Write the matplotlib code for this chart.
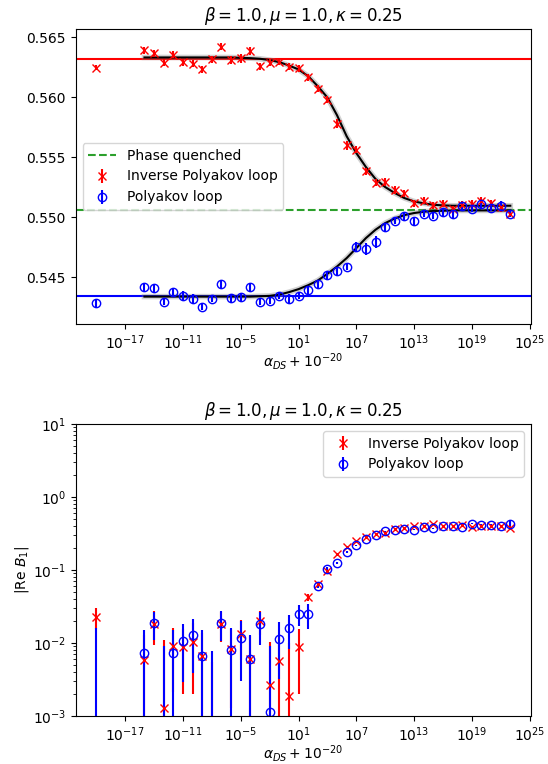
import matplotlib
matplotlib.use('Agg')
import matplotlib.pyplot as plt
import matplotlib.ticker as mticker
import numpy as np

# alpha_DS values of the runs (first run has alpha_DS = 0)
alpha_ds = np.array([0.0, 1e-15, 1e-14, 1e-13, 1e-12, 1e-11, 1e-10, 1e-9, 1e-8,
                     1e-7, 1e-6, 1e-5, 1e-4, 1e-3, 1e-2, 1e-1, 1e0, 1e1, 1e2,
                     1e3, 1e4, 1e5, 1e6, 1e7, 1e8, 1e9, 1e10, 1e11, 1e12, 1e13,
                     1e14, 1e15, 1e16, 1e17, 1e18, 1e19, 1e20, 1e21, 1e22, 1e23])
x = alpha_ds + 1e-20

# Top panel: |Polyakov loop| and |inverse Polyakov loop|
inv_poly = [0.56249, 0.56394, 0.56366, 0.56288, 0.56355, 0.56291, 0.56280, 0.56235,
            0.56316, 0.56422, 0.56311, 0.56325, 0.56386, 0.56260, 0.56288, 0.56299,
            0.56255, 0.56241, 0.56166, 0.56071, 0.55982, 0.55781, 0.55600, 0.55564,
            0.55383, 0.55288, 0.55294, 0.55227, 0.55199, 0.55118, 0.55138, 0.55099,
            0.55113, 0.55071, 0.55099, 0.55113, 0.55138, 0.55118, 0.55085, 0.55029]
inv_poly_err = [0.0002, 0.0003, 0.0003, 0.0003, 0.0003, 0.0003, 0.0003, 0.0003,
                0.0003, 0.0003, 0.0003, 0.0004, 0.0003, 0.0003, 0.0003, 0.0003,
                0.0003, 0.0003, 0.0003, 0.0003, 0.0003, 0.0004, 0.0004, 0.0003,
                0.0003, 0.0003, 0.0003, 0.0003, 0.0003, 0.0003, 0.0003, 0.0003,
                0.0003, 0.0002, 0.0004, 0.0003, 0.0003, 0.0003, 0.0004, 0.0003]
poly = [0.54283, 0.54416, 0.54408, 0.54297, 0.54375, 0.54341, 0.54319, 0.54255,
        0.54319, 0.54439, 0.54327, 0.54333, 0.54416, 0.54297, 0.54305, 0.54347,
        0.54319, 0.54347, 0.54391, 0.54439, 0.54517, 0.54550, 0.54589, 0.54751,
        0.54737, 0.54790, 0.54915, 0.54971, 0.55007, 0.54965, 0.55029, 0.55013,
        0.55043, 0.55026, 0.55091, 0.55071, 0.55107, 0.55079, 0.55093, 0.55029]
poly_err = [0.0003, 0.0003, 0.0003, 0.0003, 0.0003, 0.0004, 0.0004, 0.0003,
            0.0003, 0.0003, 0.0003, 0.0003, 0.0003, 0.0003, 0.0003, 0.0003,
            0.0004, 0.0003, 0.0003, 0.0003, 0.0003, 0.0003, 0.0003, 0.0004,
            0.0005, 0.0005, 0.0004, 0.0003, 0.0003, 0.0003, 0.0003, 0.0003,
            0.0003, 0.0003, 0.0004, 0.0003, 0.0003, 0.0003, 0.0004, 0.0003]

# fitted curves (alpha_DS = 1e-15 ... 1e23)
fit_inv = [0.56333, 0.56333, 0.56333, 0.56333, 0.56333, 0.56333, 0.56333, 0.56333,
           0.56333, 0.56333, 0.56330, 0.56327, 0.56322, 0.56311, 0.56294, 0.56266,
           0.56233, 0.56177, 0.56093, 0.55999, 0.55851, 0.55676, 0.55536, 0.55419,
           0.55319, 0.55252, 0.55202, 0.55160, 0.55132, 0.55116, 0.55104, 0.55099,
           0.55096, 0.55096, 0.55096, 0.55096, 0.55096, 0.55096, 0.55096]
fit_poly = [0.54338, 0.54338, 0.54338, 0.54338, 0.54338, 0.54338, 0.54338, 0.54338,
            0.54338, 0.54338, 0.54338, 0.54338, 0.54341, 0.54344, 0.54355, 0.54375,
            0.54400, 0.54433, 0.54472, 0.54528, 0.54589, 0.54659, 0.54742, 0.54826,
            0.54896, 0.54951, 0.54990, 0.55018, 0.55035, 0.55046, 0.55052, 0.55054,
            0.55057, 0.55057, 0.55057, 0.55057, 0.55057, 0.55057, 0.55057]

inv_poly_ref = 0.56322   # alpha_DS = 0 limit
poly_ref = 0.54344
phase_quenched = 0.55063

# Bottom panel: |Re B_1|
inv_b1 = [0.0225, 0.0058, 0.0182, 0.0013, 0.0091, 0.0088, 0.0104, 0.0067,
          0.0005, 0.0183, 0.0083, 0.0134, 0.0060, 0.0200, 0.00262, 0.00565,
          0.0019, 0.0087, 0.0420, 0.0650, 0.0980, 0.163, 0.207, 0.246,
          0.282, 0.313, 0.323, 0.366, 0.378, 0.397, 0.397, 0.428,
          0.406, 0.406, 0.415, 0.386, 0.397, 0.406, 0.406, 0.377]
inv_b1_err = [0.0072, 0.0070, 0.0089, 0.0097, 0.0070, 0.0068, 0.0084, 0.0070,
              0.0050, 0.0080, 0.0070, 0.0075, 0.0065, 0.0070, 0.0077, 0.0075,
              0.0080, 0.0067, 0.0045, 0.0040, 0.0040, 0.006, 0.006, 0.006,
              0.006, 0.006, 0.006, 0.006, 0.006, 0.006, 0.006, 0.006,
              0.006, 0.006, 0.008, 0.008, 0.008, 0.008, 0.008, 0.020]
b1 = [0.0004, 0.0072, 0.0188, 0.0003, 0.0072, 0.0106, 0.0127, 0.0067,
      0.0002, 0.0188, 0.0080, 0.0115, 0.0060, 0.0181, 0.00114, 0.0113,
      0.0161, 0.0251, 0.0247, 0.0600, 0.1045, 0.1263, 0.1770, 0.2180,
      0.268, 0.303, 0.340, 0.354, 0.366, 0.358, 0.386, 0.373,
      0.397, 0.397, 0.393, 0.428, 0.419, 0.419, 0.406, 0.432]
b1_err = [0.0158, 0.0076, 0.0077, 0.0088, 0.0080, 0.0077, 0.0088, 0.0085,
          0.0075, 0.0082, 0.0078, 0.0085, 0.0068, 0.0086, 0.0078, 0.0081,
          0.0079, 0.0080, 0.0092, 0.0040, 0.004, 0.004, 0.004, 0.005,
          0.005, 0.005, 0.005, 0.005, 0.005, 0.005, 0.005, 0.005,
          0.006, 0.006, 0.006, 0.008, 0.008, 0.008, 0.008, 0.030]

title = r'$\beta = 1.0, \mu = 1.0, \kappa = 0.25$'
xlabel = r'$\alpha_{DS} + 10^{-20}$'

fig = plt.figure(figsize=(5.48, 7.64), dpi=100)
ax1 = fig.add_axes([0.138, 0.576, 0.831, 0.386])
ax2 = fig.add_axes([0.138, 0.063, 0.831, 0.382])

# --- top panel ---
ax1.axhline(phase_quenched, color='tab:green', ls='--', label='Phase quenched')
ax1.axhline(inv_poly_ref, color='r')
ax1.axhline(poly_ref, color='b')
ax1.plot(x[1:], fit_inv, color='grey', lw=4, alpha=0.35)
ax1.plot(x[1:], fit_inv, color='k', lw=1.5)
ax1.plot(x[1:], fit_poly, color='grey', lw=4, alpha=0.35)
ax1.plot(x[1:], fit_poly, color='k', lw=1.5)
ax1.errorbar(x, inv_poly, yerr=inv_poly_err, fmt='x', color='r',
             label='Inverse Polyakov loop')
ax1.errorbar(x, poly, yerr=poly_err, fmt='o', color='b', mfc='none',
             label='Polyakov loop')
ax1.set_xscale('log')
ax1.set_ylim(0.5411, 0.5657)
ax1.xaxis.set_minor_locator(mticker.NullLocator())
ax1.set_title(title)
ax1.set_xlabel(xlabel, labelpad=-1)
ax1.legend(loc='center left')

# --- bottom panel ---
ax2.errorbar(x, inv_b1, yerr=inv_b1_err, fmt='x', color='r',
             label='Inverse Polyakov loop')
ax2.errorbar(x, b1, yerr=b1_err, fmt='o', color='b', mfc='none',
             label='Polyakov loop')
ax2.set_xscale('log')
ax2.set_yscale('log')
ax2.set_ylim(1e-3, 1e1)
ax2.set_xlim(ax1.get_xlim())
ax2.xaxis.set_minor_locator(mticker.NullLocator())
ax2.set_title(title)
ax2.set_xlabel(xlabel, labelpad=-1)
ax2.set_ylabel(r'$|\mathrm{Re}\ B_1|$', labelpad=1)
ax2.legend(loc='upper right')

fig.savefig('out.png', dpi=100)
